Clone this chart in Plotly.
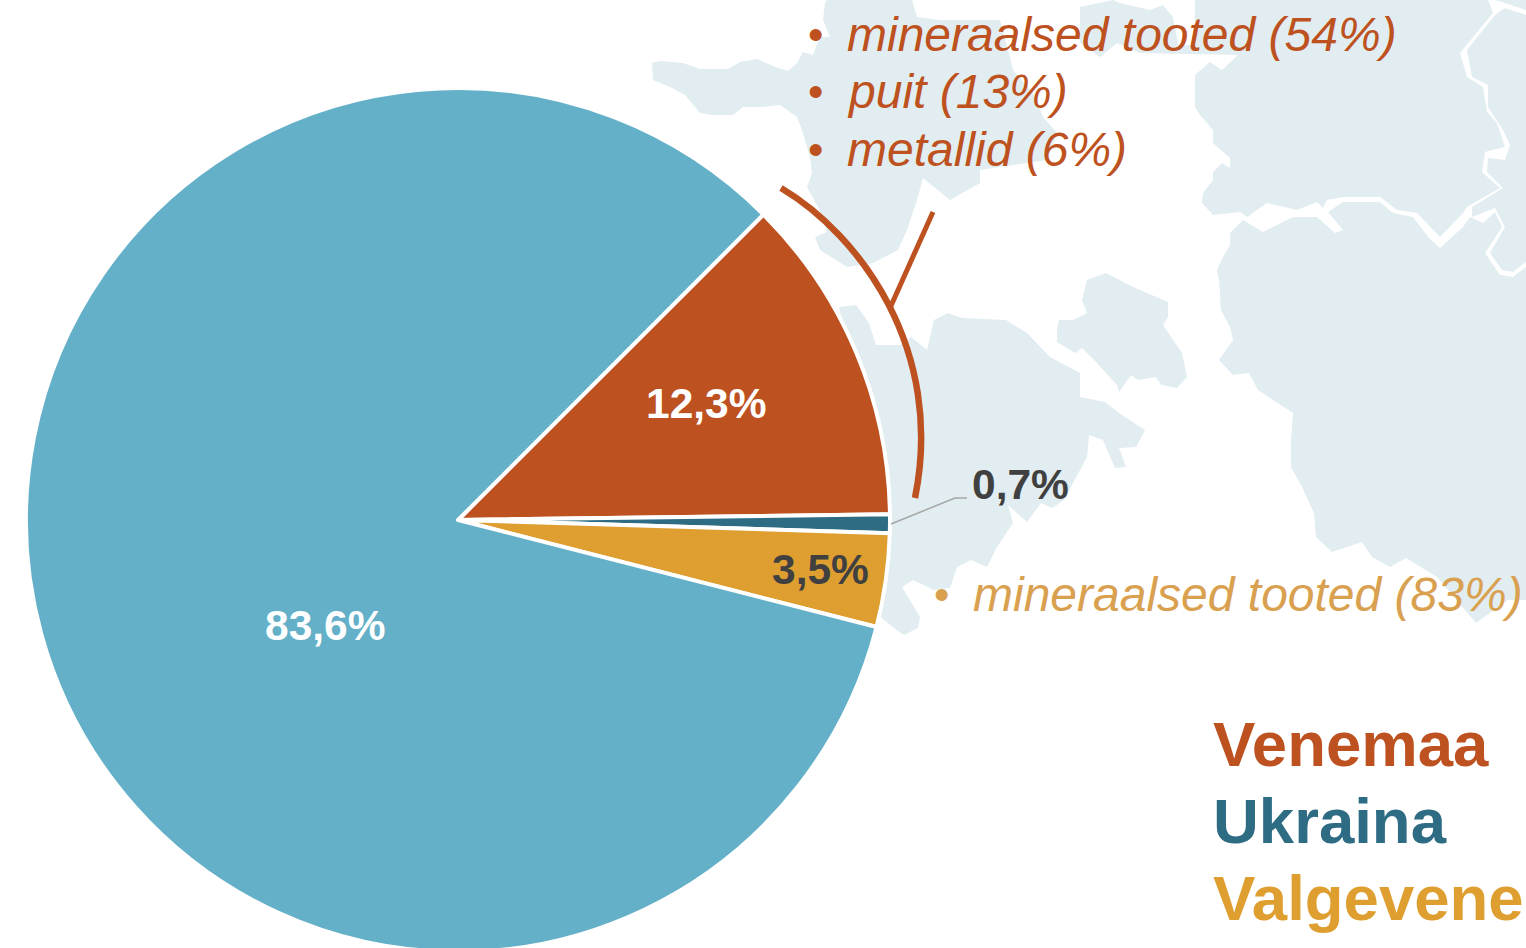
import plotly.graph_objects as go

WIDTH, PAGE_H, FIG_H = 1526, 948, 952

categories = ["Venemaa", "Ukraina", "Valgevene", "Muud riigid"]
shares = [12.3, 0.7, 3.5, 83.6]
slice_colors = ["#BE5120", "#2E6C84", "#DF9F30", "#63B0C8"]
russia_goods = ["mineraalsed tooted (54%)", "puit (13%)", "metallid (6%)"]
belarus_goods = ["mineraalsed tooted (83%)"]

MAP = "#E1EDF0"
RED, TEAL, AMBER = "#BE5120", "#2E6C84", "#DF9F30"
AMBER_SOFT = "#D9A050"
DARK = "#404040"
FONT = "Liberation Sans, Arial, sans-serif"

map_west = [(652,63),(660,61),(683,63),(700,69),(728,69),(740,62),(757,59),(778,68),(788,71),(797,63),(803,52),(813,55),(820,37),(830,37),(823,20),(825,3),(827,0),(912,0),(917,17),(940,20),(1000,20),(1008,50),(1010,57),(1013,70),(1033,93),(1043,117),(1057,133),(1047,160),(980,170),(980,183),(950,200),(923,178),(917,200),(907,230),(898,250),(873,263),(847,267),(820,250),(815,237),(827,232),(818,207),(807,187),(812,173),(810,157),(803,133),(797,117),(780,105),(763,107),(743,107),(733,115),(712,115),(700,113),(685,95),(670,87),(653,80)]
map_north = [(1080,7),(1113,0),(1120,3),(1150,10),(1163,5),(1173,17),(1178,45),(1195,45),(1195,0),(1488,0),(1493,13),(1460,53),(1467,77),(1483,87),(1487,112),(1497,123),(1505,147),(1485,152),(1482,172),(1500,188),(1467,207),(1463,213),(1440,237),(1417,213),(1397,210),(1380,197),(1343,197),(1327,200),(1323,208),(1317,202),(1297,210),(1267,203),(1247,217),(1240,212),(1213,215),(1202,203),(1203,193),(1213,180),(1213,172),(1222,163),(1230,168),(1230,158),(1213,143),(1213,130),(1200,115),(1195,107),(1195,75),(1210,62),(1222,70),(1238,55),(1140,53),(1117,43),(1100,57),(1080,43)]
map_corner = [(1495,0),(1505,3),(1526,10),(1526,0)]
map_east = [(1526,15),(1505,8),(1495,15),(1467,50),(1472,77),(1488,85),(1488,107),(1503,130),(1510,145),(1505,160),(1488,158),(1487,172),(1503,188),(1472,207),(1472,217),(1495,208),(1505,227),(1490,253),(1502,270),(1513,272),(1526,262)]
map_south = [(1230,233),(1243,220),(1263,232),(1293,217),(1317,217),(1335,233),(1343,230),(1328,212),(1343,202),(1380,202),(1393,213),(1413,217),(1428,237),(1440,248),(1463,227),(1470,217),(1483,223),(1495,212),(1502,227),(1485,253),(1500,275),(1513,277),(1526,267),(1526,600),(1508,600),(1476,623),(1437,577),(1406,558),(1390,567),(1372,557),(1362,542),(1332,552),(1316,537),(1314,513),(1302,487),(1291,467),(1291,440),(1293,413),(1258,390),(1249,373),(1233,375),(1219,360),(1233,340),(1230,327),(1221,310),(1219,280),(1217,270),(1223,257),(1230,245)]
map_gulf = [(839,307),(856,305),(869,323),(876,345),(900,345),(911,337),(927,350),(934,320),(948,313),(962,318),(1006,320),(1027,333),(1050,357),(1080,373),(1080,397),(1105,402),(1119,413),(1145,430),(1136,447),(1119,448),(1126,467),(1115,468),(1103,440),(1089,435),(1087,457),(1064,500),(1052,508),(1041,503),(1027,522),(1008,505),(1013,523),(997,547),(987,567),(971,560),(957,567),(950,588),(934,590),(913,580),(902,587),(920,617),(918,628),(904,635),(890,625),(860,600),(860,400)]
map_island = [(1057,330),(1059,320),(1073,320),(1087,313),(1082,300),(1087,280),(1106,273),(1133,287),(1168,302),(1168,317),(1163,325),(1182,353),(1187,377),(1177,388),(1161,385),(1156,377),(1138,380),(1131,375),(1119,392),(1117,385),(1096,362),(1082,348),(1075,353),(1057,342)]


def poly(points):
    return "M " + " L ".join(f"{x},{y}" for x, y in points) + " Z"


shapes = [
    dict(type="path", path=poly(p), xref="x", yref="y", fillcolor=MAP, line_width=0, layer="below")
    for p in (map_west, map_north, map_corner, map_east, map_south, map_gulf, map_island)
]
shapes += [
    dict(type="path", path="M 781,188 C 860,235 945,350 915,498", xref="x", yref="y",
         line=dict(color=RED, width=6.5), layer="above"),
    dict(type="line", x0=933, y0=212, x1=890, y1=308, xref="x", yref="y",
         line=dict(color=RED, width=5), layer="above"),
    dict(type="path", path="M 891,524 L 955,498 L 967,498", xref="x", yref="y",
         line=dict(color="#A6A6A6", width=1.5), layer="above"),
]


def pct(v):
    return f"{v:.1f}".replace(".", ",") + "%"


def note(x, y, text, color, size, bold=False, italic=False, anchor="left"):
    t = f"<b>{text}</b>" if bold else text
    t = f"<i>{t}</i>" if italic else t
    return dict(x=x, y=y, xref="x", yref="y", text=t, showarrow=False, xanchor=anchor, yanchor="middle",
                font=dict(family=FONT, size=size, color=color))


notes = [
    note(706, 403, pct(shares[0]), "#FFFFFF", 42.5, bold=True, anchor="center"),
    note(1020, 484, pct(shares[1]), DARK, 42.5, bold=True, anchor="center"),
    note(820, 569, pct(shares[2]), DARK, 42.5, bold=True, anchor="center"),
    note(325, 625, pct(shares[3]), "#FFFFFF", 42.5, bold=True, anchor="center"),
    note(1211, 744, categories[0], RED, 63.5, bold=True),
    note(1211, 821, categories[1], TEAL, 63.5, bold=True),
    note(1211, 898, categories[2], AMBER, 63.5, bold=True),
]
for y, item in zip((34, 91, 149), russia_goods):
    notes.append(note(806, y, "•", RED, 44))
    notes.append(note(845, y, item, RED, 48, italic=True))
notes.append(note(932, 594, "•", AMBER_SOFT, 44))
notes.append(note(971, 594, belarus_goods[0], AMBER_SOFT, 48, italic=True))

fig = go.Figure()
fig.add_trace(go.Scatter(x=[], y=[], hoverinfo="skip", showlegend=False))
fig.add_trace(go.Pie(
    labels=categories, values=shares, sort=False, direction="clockwise", rotation=45,
    marker=dict(colors=slice_colors, line=dict(color="#FFFFFF", width=4)),
    textinfo="none", hoverinfo="none", showlegend=False,
    domain=dict(x=[26 / WIDTH, 890 / WIDTH], y=[0, 864 / FIG_H]),
))
fig.update_layout(
    width=WIDTH, height=FIG_H, margin=dict(l=0, r=0, t=0, b=0, pad=0),
    paper_bgcolor="#FFFFFF", plot_bgcolor="rgba(0,0,0,0)", showlegend=False,
    xaxis=dict(range=[0, WIDTH], visible=False, domain=[0, 1], fixedrange=True),
    yaxis=dict(range=[FIG_H, 0], visible=False, domain=[0, 1], fixedrange=True),
    shapes=shapes, annotations=notes,
)
fig.write_html(
    "out.html", config=dict(displayModeBar=False),
    post_script="document.body.style.margin='0';document.documentElement.style.overflow='hidden';document.body.style.overflow='hidden';",
)
